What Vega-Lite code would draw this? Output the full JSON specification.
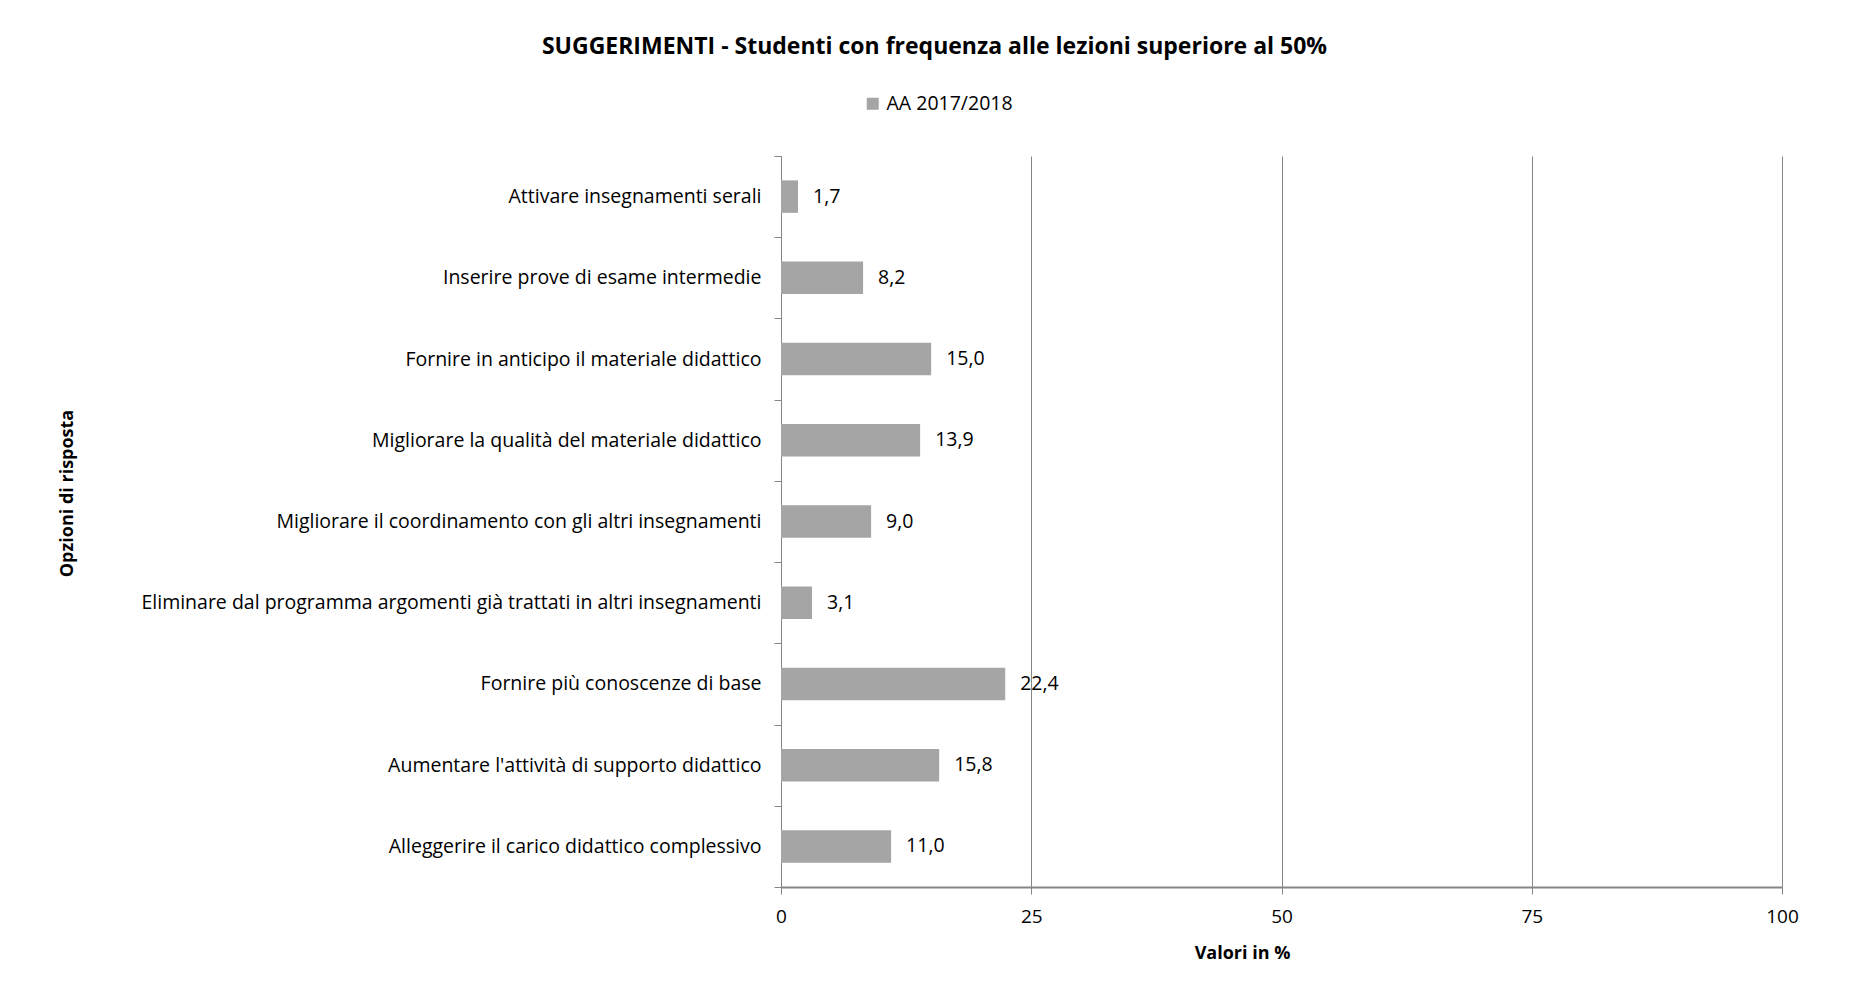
{
  "$schema": "https://vega.github.io/schema/vega-lite/v6.json",
  "width": 1001,
  "height": 731,
  "autosize": {"type": "none"},
  "padding": {"left": 781, "top": 156, "right": 67, "bottom": 119},
  "background": "white",
  "config": {
    "locale": {"number": {"decimal": ",", "thousands": ".", "grouping": [3], "currency": ["€", ""]}},
    "view": {"stroke": null},
    "font": "Open Sans"
  },
  "title": {
    "text": "SUGGERIMENTI  - Studenti con frequenza alle lezioni superiore al 50%",
    "anchor": "middle",
    "frame": "group",
    "dx": -347,
    "offset": 35,
    "fontSize": 23,
    "fontWeight": "bold",
    "color": "#000000",
    "font": "Open Sans"
  },
  "data": {
    "values": [
      {"opzione": "Attivare insegnamenti serali", "valore": 1.7},
      {"opzione": "Inserire prove di esame intermedie", "valore": 8.2},
      {"opzione": "Fornire in anticipo il materiale didattico", "valore": 15.0},
      {"opzione": "Migliorare la qualità del materiale didattico", "valore": 13.9},
      {"opzione": "Migliorare il coordinamento con gli altri insegnamenti", "valore": 9.0},
      {"opzione": "Eliminare dal programma argomenti già trattati in altri insegnamenti", "valore": 3.1},
      {"opzione": "Fornire più conoscenze di base", "valore": 22.4},
      {"opzione": "Aumentare l'attività di supporto didattico", "valore": 15.8},
      {"opzione": "Alleggerire il carico didattico complessivo", "valore": 11.0}
    ]
  },
  "encoding": {
    "y": {
      "field": "opzione",
      "type": "nominal",
      "sort": null,
      "scale": {"paddingInner": 0, "paddingOuter": 0},
      "title": "Opzioni di risposta",
      "axis": {
        "domainColor": "#868686",
        "tickColor": "#868686",
        "tickSize": 7,
        "tickBand": "extent",
        "labelFontSize": 19.5,
        "labelColor": "#000000",
        "labelPadding": 13,
        "labelLimit": 1000,
        "titleFontSize": 18,
        "titleFont": "Open Sans",
        "titleFontWeight": "bold",
        "titleColor": "#000000",
        "titleAngle": -90,
        "titleX": -714,
        "titleY": 337,
        "titleAlign": "center",
        "titleBaseline": "middle"
      }
    },
    "x": {
      "field": "valore",
      "type": "quantitative",
      "scale": {"domain": [0, 100]},
      "title": "Valori in %",
      "axis": {
        "values": [0, 25, 50, 75, 100],
        "grid": true,
        "gridColor": "#868686",
        "domainColor": "#868686",
        "domainWidth": 2,
        "tickColor": "#868686",
        "tickSize": 7,
        "labelFlush": false,
        "labelFontSize": 19,
        "labelColor": "#000000",
        "labelPadding": 13,
        "titleFontSize": 18,
        "titleFontWeight": "bold",
        "titleColor": "#000000",
        "titleX": 461,
        "titleY": 66,
        "titleAlign": "center",
        "titleBaseline": "middle"
      }
    }
  },
  "layer": [
    {
      "mark": {"type": "bar", "height": {"band": 0.4}},
      "encoding": {
        "color": {
          "datum": "AA 2017/2018",
          "scale": {"range": ["#a5a5a5"]},
          "legend": {
            "title": null,
            "orient": "none",
            "legendX": 82,
            "legendY": -62,
            "padding": 0,
            "symbolType": "square",
            "symbolSize": 144,
            "symbolStrokeWidth": 0,
            "labelFontSize": 19.5,
            "labelColor": "#000000",
            "labelOffset": 4
          }
        }
      }
    },
    {
      "mark": {"type": "text", "align": "left", "dx": 15, "fontSize": 19.5, "color": "#000000"},
      "encoding": {
        "text": {"field": "valore", "type": "quantitative", "format": ".1f"}
      }
    }
  ]
}
